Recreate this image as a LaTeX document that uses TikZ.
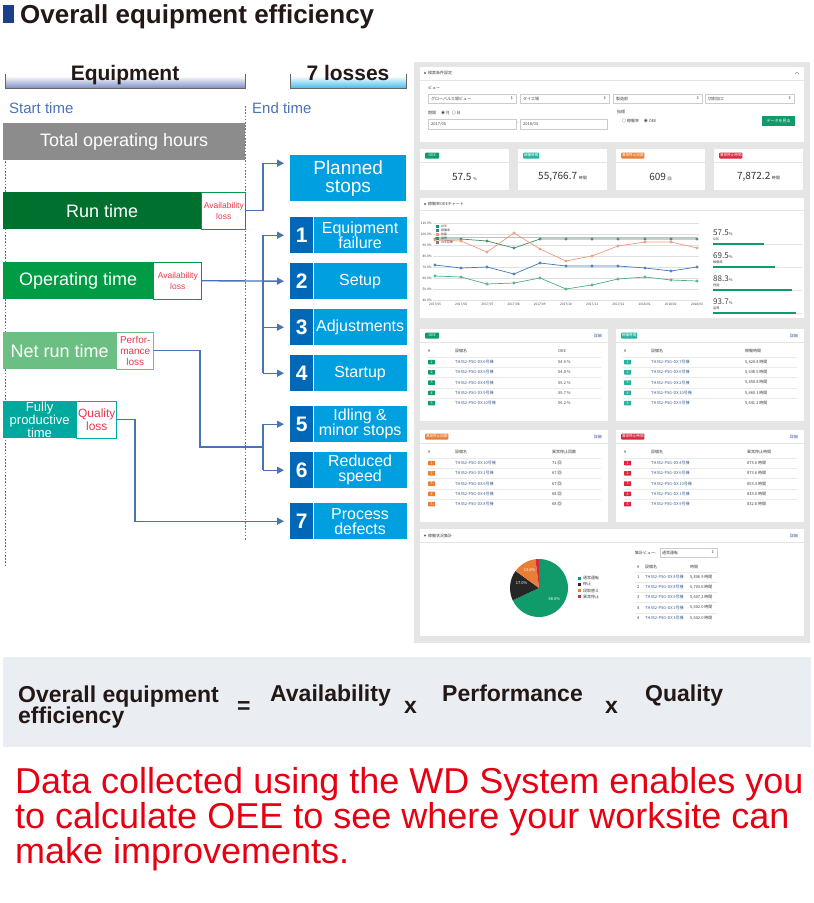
\documentclass[tikz,border=0pt]{standalone}
\usepackage{fontspec}
\setmainfont{Liberation Sans}
\newfontfamily\jpfont{Noto Sans CJK JP}
\usetikzlibrary{arrows.meta,positioning,calc,plotmarks}

\definecolor{titleblue}{HTML}{1B3F8B}
\definecolor{inkdark}{HTML}{231815}
\definecolor{linkblue}{HTML}{4A72B8}
\definecolor{cyanbox}{HTML}{00A0E0}
\definecolor{navybox}{HTML}{0068B7}
\definecolor{totgray}{HTML}{8C8C8C}
\definecolor{rungreen}{HTML}{00702E}
\definecolor{opgreen}{HTML}{009B45}
\definecolor{netgreen}{HTML}{6CBF82}
\definecolor{fullteal}{HTML}{00A99D}
\definecolor{lossred}{HTML}{E8384F}
\definecolor{notered}{HTML}{E60012}
\definecolor{hdrblue}{HTML}{7D8FC4}
\definecolor{hdrcyan}{HTML}{45BDEB}
\definecolor{formulabg}{HTML}{EAEDF2}
\definecolor{screenbg}{HTML}{E5E5E5}
\definecolor{oeegreen}{HTML}{129B6A}
\definecolor{timeteal}{HTML}{25B39E}
\definecolor{stoporange}{HTML}{E97F36}
\definecolor{stopred}{HTML}{D8283F}
\definecolor{linkname}{HTML}{3E5F94}
\definecolor{serdark}{HTML}{3F8A5F}
\definecolor{serorange}{HTML}{EC9A7E}
\definecolor{serblue}{HTML}{4479B4}
\definecolor{sergreen}{HTML}{4DB07F}

\begin{document}
\begin{tikzpicture}[x=1pt, y=-1pt,
    bar/.style={rectangle, anchor=north west, minimum height=37pt, inner sep=0pt, text=white, font=\fontsize{18}{20}\selectfont},
    lossbox/.style={rectangle, draw=#1, line width=0.8pt, fill=white, minimum height=37pt, inner sep=0pt, text=lossred, align=center},
    numbox/.style={rectangle, fill=navybox, minimum width=23pt, minimum height=36pt, inner sep=0pt, anchor=north west, text=white, font=\fontsize{21}{21}\selectfont\bfseries},
    lossname/.style={rectangle, fill=cyanbox, minimum width=93pt, minimum height=36pt, inner sep=0pt, text=white, align=center, font=\fontsize{16}{15}\selectfont},
    hdrtext/.style={anchor=base, text=inkdark, font=\fontsize{21}{21}\selectfont\bfseries, inner sep=0pt},
    timelabel/.style={anchor=base west, text=linkblue, font=\fontsize{15}{15}\selectfont, inner sep=0pt},
    route/.style={draw=linkblue, line width=1.4pt},
    link/.style={route, -{Triangle[length=7pt, width=7pt]}, shorten >=6pt},
    guide/.style={draw=linkblue, line width=1pt, dash pattern=on 1.6pt off 1.6pt},
    panel/.style={fill=white},
    dashtxt/.style={inner sep=0pt, text=black!75, font=\jpfont\fontsize{4}{5}\selectfont},
    badge/.style={fill=#1, text=white, inner sep=0.8pt, minimum width=14pt, minimum height=6pt, rounded corners=0.8pt, font=\jpfont\fontsize{3.6}{4}\selectfont},
    formula/.style={anchor=base west, inner sep=0pt, text=inkdark, font=\fontsize{23}{23}\selectfont\bfseries},
    notetext/.style={anchor=base west, inner sep=0pt, text=notered, font=\fontsize{36}{36}\selectfont},
]
    \useasboundingbox (0,0) rectangle (814,903);

    % Title
    \node[fill=titleblue, minimum width=11pt, minimum height=18pt, inner sep=0pt, anchor=north west] (titlemark) at (3,5) {};
    \node[anchor=base west, inner sep=0pt, text=inkdark, font=\fontsize{26}{26}\selectfont\bfseries] (title) at (20,23) {Overall equipment efficiency};

    % Column headers
    \shade[top color=white, bottom color=hdrblue] (5,76) rectangle (245,88);
    \draw[black!60, line width=0.8pt] (5,74) -- (5,88) -- (245,88) -- (245,74);
    \node[hdrtext] (equiphdr) at (125,80) {Equipment};
    \shade[top color=white, bottom color=hdrcyan] (290,76) rectangle (406,88);
    \draw[black!60, line width=0.8pt] (290,74) -- (290,88) -- (406,88) -- (406,74);
    \node[hdrtext] (losshdr) at (348,80) {7 losses};

    \node[timelabel] (starttime) at (9,113) {Start time};
    \node[timelabel] (endtime) at (252,113) {End time};
    \draw[guide] (5,123) -- (5,566);
    \draw[guide] (245,106) -- (245,540);

    % Time bars and their losses
    \node[bar, fill=totgray, minimum width=242pt] (total) at (3,123) {Total operating hours};
    \node[bar, fill=rungreen, minimum width=198pt] (run) at (3,192) {Run time};
    \node[lossbox=opgreen, minimum width=44pt, right=0pt of run, font=\fontsize{8.5}{11}\selectfont] (runloss) {Availability\\loss};
    \node[bar, fill=opgreen, minimum width=150pt] (oper) at (3,262) {Operating time};
    \node[lossbox=opgreen, minimum width=48pt, right=0pt of oper, font=\fontsize{8.5}{11}\selectfont] (oploss) {Availability\\loss};
    \node[bar, fill=netgreen, minimum width=113pt] (netrun) at (3,332) {Net run time};
    \node[lossbox=netgreen, minimum width=37pt, right=0pt of netrun, font=\fontsize{10}{11}\selectfont] (netloss) {Perfor-\\mance\\loss};
    \node[bar, fill=fullteal, minimum width=73pt, align=center, font=\fontsize{13}{12}\selectfont] (fullprod) at (3,401) {Fully\\productive\\time};
    \node[lossbox=fullteal, minimum width=40pt, right=0pt of fullprod, font=\fontsize{12}{12.5}\selectfont] (qualloss) {Quality\\loss};

    % 7 losses
    \node[lossname, anchor=north west, minimum width=116pt, minimum height=46pt, font=\fontsize{19}{18}\selectfont] (planned) at (290,155) {Planned\\stops};
    \foreach \k/\y/\txt in {1/217/{Equipment\\failure}, 2/263/Setup, 3/309/Adjustments, 4/355/Startup, 5/406/{Idling \&\\minor stops}, 6/452/{Reduced\\speed}, 7/503/{Process\\defects}}{
        \node[numbox] (n\k) at (290,\y) {\k};
        \node[lossname, right=0pt of n\k] (loss\k) {\txt};
    }

    % Connectors
    \coordinate (availbus) at (263,300);
    \coordinate (plannedin) at ([yshift=15pt]planned.west);
    \draw[link] (runloss.east) -| (availbus |- plannedin) -- (plannedin);
    \draw[link] (oploss.east) -- (n2.west);
    \draw[route] (availbus |- n1.west) -- (availbus |- n4.west);
    \foreach \k in {1,3,4}
        \draw[link] (availbus |- n\k.west) -- (n\k.west);
    \coordinate (perfbend) at (200,447);
    \coordinate (perfjoin) at (263,447);
    \draw[route] (netloss.east) -| (perfbend) -- (perfjoin);
    \draw[route] (perfjoin |- n5.west) -- (perfjoin |- n6.west);
    \draw[link] (perfjoin |- n5.west) -- (n5.west);
    \draw[link] (perfjoin |- n6.west) -- (n6.west);
    \coordinate (qualbend) at (135,470);
    \draw[link] (qualloss.east) -| (qualbend) |- (n7.west);

    % Dashboard screenshot
    \fill[screenbg] (414,62) rectangle (810,643);
    \fill[panel] (420,67) rectangle (804,142);
    \draw[black!10] (420,80) -- (804,80);
    \fill[black!60] (425,73) circle (1.2pt);
    \node[dashtxt, anchor=west] (filterhdr) at (428,73) {検索条件設定};
    \draw[black!40, line width=0.4pt] (795,74) -- (797,72) -- (799,74);
    \node[dashtxt, anchor=west] (viewlbl) at (428,88) {ビュー};
    \foreach \x/\w/\txt [count=\i] in {428/88/グローバル工場ビュー, 520/89/タイ工場, 613/89/製造部, 705/89/切削加工}{
        \draw[black!20, fill=white] (\x,94) rectangle ++(\w,9);
        \node[dashtxt, anchor=west] (viewsel\i) at (\x+3,98.5) {\txt};
        \node[dashtxt, anchor=east] (viewarr\i) at (\x+\w-2,98.5) {‡};
    }
    \node[dashtxt, anchor=west] (periodlbl) at (428,113) {期間 \quad ◉ 月 \ ○ 日};
    \draw[black!20, fill=white] (428,119) rectangle (516,129);
    \node[dashtxt, anchor=west] (datefrom) at (431,124) {2017/05};
    \node[dashtxt] (datedash) at (518,124) {-};
    \draw[black!20, fill=white] (520,119) rectangle (607,129);
    \node[dashtxt, anchor=west] (dateto) at (523,124) {2018/03};
    \node[dashtxt, anchor=west] (metriclbl) at (617,112) {指標};
    \node[dashtxt, anchor=west] (metricsel) at (622,121) {○ 稼働率 \quad ◉ OEE};
    \node[fill=oeegreen, text=white, minimum width=33pt, minimum height=10pt, inner sep=0pt, font=\jpfont\fontsize{4}{5}\selectfont, anchor=north west] (showbtn) at (762,116) {データを見る};

    % KPI cards
    \foreach \x/\col/\lbl/\num/\kunit [count=\i] in {420/oeegreen/OEE/57.5/\%, 518/timeteal/稼働時間/{55,766.7}/時間, 616/stoporange/異常停止回数/609/回, 714/stopred/異常停止時間/{7,872.2}/時間}{
        \fill[panel] (\x,149) rectangle ++(89,41);
        \draw[black!10] (\x,162) -- ++(89,0);
        \node[badge=\col, anchor=west] (kpibadge\i) at (\x+5,155.5) {\lbl};
        \node[inner sep=0pt, text=black!80, font=\jpfont\fontsize{10}{10}\selectfont] (kpinum\i) at (\x+44.5,177) {\num\,{\fontsize{4}{4}\selectfont\kunit}};
    }

    % Trend chart
    \fill[panel] (420,198) rectangle (804,318);
    \draw[black!10] (420,210) -- (804,210);
    \fill[black!60] (425,204) circle (1.2pt);
    \node[dashtxt, anchor=west] (charthdr) at (428,204) {稼働率OEEチャート};
    \foreach \k/\pct in {0/110.0, 1/100.0, 2/90.0, 3/80.0, 4/70.0, 5/60.0, 6/50.0, 7/40.0}{
        \draw[black!12, line width=0.4pt] (433,223+11*\k) -- (699,223+11*\k);
        \node[dashtxt, anchor=east, font=\jpfont\fontsize{3.2}{4}\selectfont] (ytick\k) at (432,223+11*\k) {\pct\%};
    }
    \foreach \mon [count=\i from 0] in {2017/05, 2017/06, 2017/07, 2017/08, 2017/09, 2017/10, 2017/11, 2017/12, 2018/01, 2018/02, 2018/03}
        \node[dashtxt, font=\jpfont\fontsize{3.2}{4}\selectfont] (xtick\i) at (435+26.2*\i,305) {\mon};
    \draw[black!25, line width=1.4pt] (435,237.5) -- (697,237.5);
    \draw[serdark, line width=0.7pt, mark=*, mark size=1.1pt, mark options={fill=white}] plot coordinates {(435,239) (461,239) (487,241) (514,248) (540,239) (566,239) (592,239) (618,239) (645,239) (671,239) (697,239)};
    \draw[serorange, line width=0.7pt, mark=*, mark size=1.1pt, mark options={fill=white}] plot coordinates {(435,240) (461,241) (487,252) (514,233) (540,249) (566,261) (592,256) (618,246) (645,242) (671,242) (697,248)};
    \draw[serblue, line width=0.7pt, mark=*, mark size=1.1pt, mark options={fill=white}] plot coordinates {(435,265) (461,268) (487,267) (514,274) (540,263) (566,266) (592,266) (618,266) (645,268) (671,271) (697,267)};
    \draw[sergreen, line width=0.7pt, mark=*, mark size=1.1pt, mark options={fill=white}] plot coordinates {(435,276) (461,277) (487,284) (514,283) (540,278) (566,289) (592,285) (618,279) (645,277) (671,280) (697,281)};
    \foreach \col/\lbl [count=\i] in {oeegreen/OEE, serblue/稼働率, serorange/性能, serdark/品質, black!50/OEE目標}{
        \fill[\col] (436,220.5+4.1*\i) rectangle ++(3,3);
        \node[dashtxt, anchor=west, font=\jpfont\fontsize{3}{3}\selectfont] (legend\i) at (441,222+4.1*\i) {\lbl};
    }
    \foreach \val/\lbl/\share [count=\i] in {57.5/OEE/0.575, 69.5/稼働率/0.695, 88.3/性能/0.883, 93.7/品質/0.937}{
        \node[dashtxt, anchor=base west, font=\jpfont\fontsize{8}{8}\selectfont] (sumval\i) at (713,212+23*\i) {\val{\fontsize{4}{4}\selectfont\%}};
        \node[dashtxt, anchor=west, font=\jpfont\fontsize{3.2}{4}\selectfont] (sumlbl\i) at (713,216+23*\i) {\lbl};
        \draw[black!10, line width=0.8pt] (713,221+23*\i) -- (802,221+23*\i);
        \draw[oeegreen, line width=1.2pt] (713,221+23*\i) -- (713+89*\share,221+23*\i);
    }

    % Ranking tables
    \foreach \x/\y/\col/\lbl/\hdr/\vx/\rows [count=\t] in {420/329/oeegreen/OEE/OEE/558/{6号機/54.6 \%, 5号機/54.8 \%, 4号機/55.2 \%, 9号機/55.7 \%, 10号機/56.2 \%}, 616/329/timeteal/稼働時間/稼働時間/745/{7号機/{5,424.4 時間}, 6号機/{5,438.5 時間}, 2号機/{5,458.8 時間}, 10号機/{5,460.1 時間}, 5号機/{5,541.2 時間}}, 420/430/stoporange/異常停止回数/異常停止回数/552/{10号機/71 回, 1号機/67 回, 6号機/67 回, 4号機/68 回, 8号機/68 回}, 616/430/stopred/異常停止時間/異常停止時間/747/{4号機/873.6 時間, 6号機/873.6 時間, 10号機/853.3 時間, 1号機/833.0 時間, 9号機/832.8 時間}}{
        \fill[panel] (\x,\y) rectangle ++(188,92);
        \draw[black!10] (\x,\y+13) -- ++(188,0);
        \node[badge=\col, anchor=west] (tbadge\t) at (\x+5,\y+6.5) {\lbl};
        \node[dashtxt, anchor=east, text=linkname] (tmore\t) at (\x+182,\y+6.5) {詳細};
        \node[dashtxt, anchor=west] (thash\t) at (\x+8,\y+22) {\#};
        \node[dashtxt, anchor=west] (tname\t) at (\x+35,\y+22) {設備名};
        \node[dashtxt, anchor=west] (tval\t) at (\vx,\y+22) {\hdr};
        \foreach \nm/\vl [count=\r] in \rows {
            \draw[black!8] (\x+7,\y+17.5+10.3*\r) -- ++(174,0);
            \node[badge=\col, minimum width=7pt, minimum height=4.5pt, inner sep=0pt, rounded corners=0.4pt, anchor=west] (trank\t-\r) at (\x+8,\y+22.7+10.3*\r) {\r};
            \node[dashtxt, anchor=west, text=linkname] (trow\t-\r) at (\x+35,\y+22.7+10.3*\r) {TH352-PSG-DX \nm};
            \node[dashtxt, anchor=west] (tcell\t-\r) at (\vx,\y+22.7+10.3*\r) {\vl};
        }
    }

    % Status summary with pie
    \fill[panel] (420,529) rectangle (804,636);
    \draw[black!10] (420,542) -- (804,542);
    \fill[black!60] (425,535.5) circle (1.2pt);
    \node[dashtxt, anchor=west] (piehdr) at (428,535.5) {稼働状況集計};
    \node[dashtxt, anchor=east, text=linkname] (piemore) at (798,535.5) {詳細};
    \begin{scope}[shift={(539,588)}, yscale=-1]
        \fill[oeegreen] (0,0) -- (90:29) arc[start angle=90, end angle=-155, radius=29] -- cycle;
        \fill[black!85] (0,0) -- (-155:29) arc[start angle=-155, end angle=-216, radius=29] -- cycle;
        \fill[stoporange] (0,0) -- (-216:29) arc[start angle=-216, end angle=-263, radius=29] -- cycle;
        \fill[stopred] (0,0) -- (-263:29) arc[start angle=-263, end angle=-270, radius=29] -- cycle;
        \node[dashtxt, text=white] (piegreen) at (-36:19) {68.0\%};
        \node[dashtxt, text=white] (pieblack) at (165:18) {17.0\%};
        \node[dashtxt, text=white] (pieorange) at (118:20) {13.0\%};
    \end{scope}
    \foreach \col/\lbl [count=\i] in {oeegreen/通常運転, black!85/停止, stoporange/段取替え, stopred/異常停止}{
        \fill[\col] (578,570.2+6.3*\i) rectangle ++(3,3);
        \node[dashtxt, anchor=west] (pielegend\i) at (583,571.7+6.3*\i) {\lbl};
    }
    \node[dashtxt, anchor=west] (aggview) at (635,552.5) {集計ビュー:};
    \draw[black!20, fill=white] (660,548) rectangle (717,557);
    \node[dashtxt, anchor=west] (aggsel) at (662,552.5) {通常運転};
    \node[dashtxt, anchor=east] (aggarr) at (715,552.5) {‡};
    \node[dashtxt, anchor=west] (agghash) at (637,567) {\#};
    \node[dashtxt, anchor=west] (aggname) at (645,567) {設備名};
    \node[dashtxt, anchor=west] (aggtime) at (690,567) {時間};
    \foreach \rk/\nm/\vl [count=\r] in {1/4号機/{5,806.9 時間}, 2/8号機/{5,703.6 時間}, 3/9号機/{5,607.2 時間}, 4/1号機/{5,602.0 時間}, 4/3号機/{5,602.0 時間}}{
        \draw[black!8] (635,561.8+10.2*\r) -- ++(82,0);
        \node[dashtxt, anchor=west] (aggrank\r) at (637,566.8+10.2*\r) {\rk};
        \node[dashtxt, anchor=west, text=linkname] (aggrow\r) at (645,566.8+10.2*\r) {TH352-PSG-DX \nm};
        \node[dashtxt, anchor=west] (aggval\r) at (690,566.8+10.2*\r) {\vl};
    }

    % Formula
    \fill[formulabg] (3,657) rectangle (811,747);
    \node[formula] (oeeword1) at (18,702) {Overall equipment};
    \node[formula] (oeeword2) at (18,723) {efficiency};
    \node[formula] (eqsign) at (237,713) {=};
    \node[formula] (availword) at (270,701) {Availability};
    \node[formula] (times1) at (404,713) {x};
    \node[formula] (perfword) at (442,701) {Performance};
    \node[formula] (times2) at (605,713) {x};
    \node[formula] (qualword) at (645,701) {Quality};

    % Note
    \node[notetext] (note1) at (15,793) {Data collected using the WD System enables you};
    \node[notetext] (note2) at (15,828) {to calculate OEE to see where your worksite can};
    \node[notetext] (note3) at (15,863) {make improvements.};
\end{tikzpicture}
\end{document}
